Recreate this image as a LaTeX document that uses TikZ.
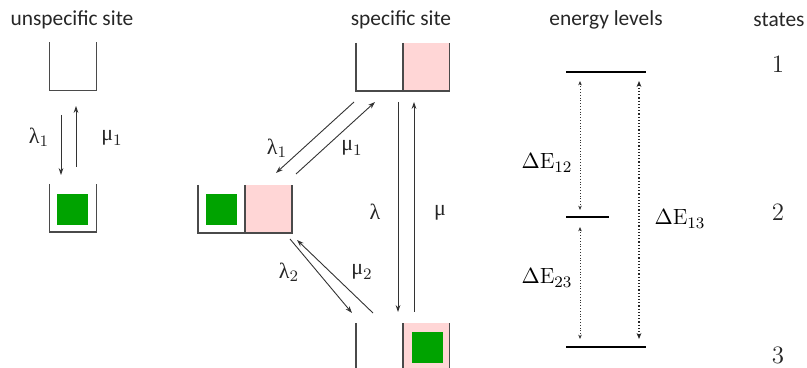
\documentclass[tikz,border=0pt]{standalone}
\usepackage{fontspec}
\setsansfont{Carlito}
\newfontfamily\grk{Liberation Serif}
\usetikzlibrary{arrows.meta}
\definecolor{wallgray}{HTML}{4A4A4A}
\definecolor{sitepink}{HTML}{FFD6D6}
\definecolor{ligandgreen}{HTML}{00A300}
\newcommand{\glam}{\mbox{\grk λ}}
\newcommand{\gmu}{\mbox{\grk μ}}
\tikzset{
  wall/.style={draw=wallgray,line width=0.8pt},
  comp/.style={minimum width=23.5pt,minimum height=24pt,inner sep=0pt,outer sep=0pt},
  pinkcomp/.style={comp,fill=sitepink},
  ligand/.style={minimum size=15.5pt,inner sep=0pt,fill=ligandgreen},
  rate/.style={draw=black!80,line width=0.45pt,-{Stealth[length=3.5pt,width=2.4pt]}},
  gap/.style={draw=black!80,line width=0.4pt,densely dotted,{Stealth[length=2.2pt,width=1.8pt]}-{Stealth[length=2.2pt,width=1.8pt]}},
  gapwide/.style={draw=black!85,line width=0.6pt,densely dotted,{Stealth[length=3pt,width=2.4pt]}-{Stealth[length=3pt,width=2.4pt]}},
  level/.style={draw=black,line width=0.7pt},
  head/.style={font=\sffamily\fontsize{10.7}{12}\selectfont,text=black!85},
  lab/.style={font=\fontsize{11}{13}\selectfont,text=black!85},
  elab/.style={font=\fontsize{11}{13}\selectfont},
  num/.style={font=\fontsize{12.5}{14}\selectfont,text=black!85},
}
\begin{document}
\begin{tikzpicture}[x=0.5pt,y=-0.5pt]
\clip (0,0) rectangle (807,368);
\useasboundingbox (0,0) rectangle (807,368);

% column headings
\node[head] (hU) at (72,20) {unspecific site};
\node[head] (hS) at (401,20) {specific site};
\node[head] (hE) at (606,20) {energy levels};
\node[head] (hN) at (779,20) {states};

% unspecific site: empty and occupied
\node[comp] (u1) at (73,66.5) {};
\draw[wall] (u1.north west) -- (u1.south west) -- (u1.south east) -- (u1.north east);
\node[comp] (u2) at (73,208) {};
\node[ligand] (g0) at (72,209.5) {};
\draw[wall] (u2.north west) -- (u2.south west) -- (u2.south east) -- (u2.north east);

% specific site, state 1: both compartments free
\node[comp] (aL) at (379.5,67) {};
\node[pinkcomp] (aR) at (426,67) {};
\draw[wall] (aL.north west) -- (aL.south west) -- (aR.south east) -- (aR.north east);
\draw[wall] (aL.north east) -- (aL.south east);

% state 2: ligand at the unspecific part
\node[comp] (bL) at (221.5,209) {};
\node[pinkcomp] (bR) at (268.5,209) {};
\node[ligand] (g2) at (221.5,209.5) {};
\draw[wall] (bL.north west) -- (bL.south west) -- (bR.south east) -- (bR.north east);
\draw[wall] (bL.north east) -- (bL.south east);

% state 3: ligand bound at the specific part
\node[comp] (cL) at (379.5,347) {};
\node[pinkcomp] (cR) at (426,347) {};
\node[ligand] (g3) at (427.5,347.5) {};
\draw[wall] (cL.north west) -- (cL.south west) -- (cR.south east) -- (cR.north east);
\draw[wall] (cL.north east) -- (cL.south east);

% rate arrows, unspecific site
\coordinate (p1) at (61,115);  \coordinate (p2) at (61,175);
\coordinate (p3) at (76,167);  \coordinate (p4) at (76,106);
\draw[rate] (p1) -- (p2);
\draw[rate] (p3) -- (p4);
\node[lab] (l0) at (39,137) {$\glam_1$};
\node[lab] (m0) at (112,138) {$\gmu_1$};

% rate arrows between state 1 and state 2
\coordinate (q1) at (354,102); \coordinate (q2) at (276,173);
\coordinate (q3) at (296,174); \coordinate (q4) at (375,102);
\draw[rate] (q1) -- (q2);
\draw[rate] (q3) -- (q4);
\node[lab] (l1) at (277,148) {$\glam_1$};
\node[lab] (m1) at (352,148) {$\gmu_1$};

% rate arrows between state 1 and state 3
\coordinate (r1) at (398,102); \coordinate (r2) at (398,312);
\coordinate (r3) at (414,312); \coordinate (r4) at (414,102);
\draw[rate] (r1) -- (r2);
\draw[rate] (r3) -- (r4);
\node[lab] (l) at (375,212) {$\glam$};
\node[lab] (m) at (440,213) {$\gmu$};

% rate arrows between state 2 and state 3
\coordinate (s1) at (290,239); \coordinate (s2) at (352,313);
\coordinate (s3) at (373,313); \coordinate (s4) at (297,240);
\draw[rate] (s1) -- (s2);
\draw[rate] (s3) -- (s4);
\node[lab] (l2) at (289,272) {$\glam_2$};
\node[lab] (m2) at (362,272) {$\gmu_2$};

% energy levels
\coordinate (e1a) at (566,72);  \coordinate (e1b) at (646,72);
\coordinate (e2a) at (566,217); \coordinate (e2b) at (609,217);
\coordinate (e3a) at (566,347); \coordinate (e3b) at (646,347);
\draw[level] (e1a) -- (e1b);
\draw[level] (e2a) -- (e2b);
\draw[level] (e3a) -- (e3b);
\coordinate (d1) at (580,81);  \coordinate (d2) at (580,210);
\coordinate (d3) at (580,227); \coordinate (d4) at (580,339);
\coordinate (d5) at (639,81);  \coordinate (d6) at (639,339);
\draw[gap] (d1) -- (d2);
\draw[gap] (d3) -- (d4);
\draw[gapwide] (d5) -- (d6);
\node[elab] (E12) at (547,163) {$\Delta\mathrm{E}_{12}$};
\node[elab] (E23) at (547,278) {$\Delta\mathrm{E}_{23}$};
\node[elab] (E13) at (680,219) {$\Delta\mathrm{E}_{13}$};

% state numbers
\node[num] (n1) at (778,64) {1};
\node[num] (n2) at (778,212) {2};
\node[num] (n3) at (778,355) {3};
\end{tikzpicture}
\end{document}
